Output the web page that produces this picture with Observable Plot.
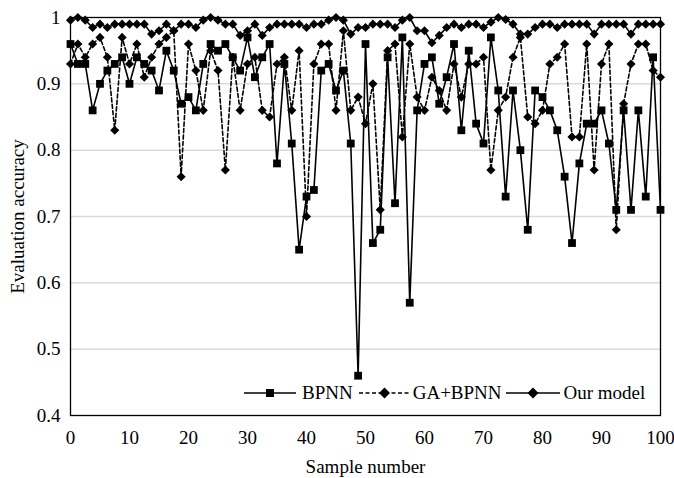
<!DOCTYPE html>
<html><head><meta charset="utf-8">
<script src="https://cdn.jsdelivr.net/npm/d3@7"></script>
<script src="https://cdn.jsdelivr.net/npm/@observablehq/plot@0.6"></script>
<style>
body{margin:0;background:#fff;}
#wrap{position:relative;width:674px;height:478px;font-family:"Liberation Serif","Times New Roman",serif;}
#legend{position:absolute;left:244px;top:382px;height:22px;display:flex;align-items:center;font-size:19px;line-height:22px;color:#000;}
#legend svg{display:block;}
</style></head>
<body><div id="wrap"><div id="chart"></div><div id="legend"></div></div>
<script>
const sampleNumber = [0,1.25,2.5,3.75,5,6.25,7.5,8.75,10,11.25,12.5,13.75,15,16.25,17.5,18.75,20,21.25,22.5,23.75,25,26.25,27.5,28.75,30,31.25,32.5,33.75,35,36.25,37.5,38.75,40,41.25,42.5,43.75,45,46.25,47.5,48.75,50,51.25,52.5,53.75,55,56.25,57.5,58.75,60,61.25,62.5,63.75,65,66.25,67.5,68.75,70,71.25,72.5,73.75,75,76.25,77.5,78.75,80,81.25,82.5,83.75,85,86.25,87.5,88.75,90,91.25,92.5,93.75,95,96.25,97.5,98.75,100];

const bpnn = [0.96,0.93,0.93,0.86,0.90,0.92,0.93,0.94,0.90,0.94,
 0.93,0.92,0.89,0.95,0.92,0.87,0.88,0.86,0.93,0.96,
 0.95,0.96,0.94,0.92,0.97,0.91,0.94,0.96,0.78,0.93,
 0.81,0.65,0.73,0.74,0.92,0.93,0.89,0.92,0.81,0.46,
 0.96,0.66,0.68,0.94,0.72,0.97,0.57,0.86,0.93,0.94,
 0.87,0.91,0.96,0.83,0.95,0.84,0.81,0.97,0.89,0.73,
 0.89,0.80,0.68,0.89,0.88,0.86,0.83,0.76,0.66,0.78,
 0.84,0.84,0.86,0.81,0.71,0.86,0.71,0.86,0.73,0.94,
 0.71];

const gaBpnn = [0.93,0.96,0.94,0.96,0.97,0.94,0.83,0.97,0.93,0.96,
 0.91,0.94,0.96,0.97,0.98,0.76,0.96,0.92,0.86,0.95,
 0.92,0.77,0.94,0.86,0.93,0.94,0.86,0.85,0.93,0.94,
 0.86,0.95,0.70,0.93,0.96,0.96,0.86,0.98,0.86,0.88,
 0.84,0.90,0.71,0.95,0.96,0.82,0.96,0.88,0.86,0.91,
 0.89,0.86,0.93,0.88,0.93,0.93,0.94,0.77,0.86,0.88,
 0.94,0.97,0.85,0.84,0.86,0.93,0.94,0.96,0.82,0.82,
 0.96,0.77,0.93,0.96,0.68,0.87,0.93,0.96,0.96,0.92,
 0.91];

const ourModel = [0.996,1.0,0.996,0.985,0.99,0.985,0.99,0.99,0.99,0.99,
 0.99,0.975,0.98,0.99,0.98,0.99,0.99,0.985,0.996,1.0,
 0.996,0.99,0.99,0.973,0.98,0.99,0.973,0.985,0.99,0.99,
 0.99,0.99,0.985,0.99,0.99,0.996,1.0,0.996,0.975,0.985,
 0.985,0.99,0.99,0.99,0.985,0.996,1.0,0.98,0.98,0.962,
 0.973,0.985,0.99,0.985,0.99,0.99,0.985,0.993,1.0,0.997,
 0.99,0.975,0.975,0.985,0.99,0.99,0.985,0.99,0.99,0.99,
 0.99,0.975,0.99,0.99,0.99,0.99,0.975,0.99,0.99,0.99,
 0.99];

const xTicks = [0,10,20,30,40,50,60,70,80,90,100];
const yTicks = [0.4,0.5,0.6,0.7,0.8,0.9,1];
const gridTicks = [0.5,0.6,0.7,0.8,0.9];
const seriesNames = ["BPNN","GA+BPNN","Our model"];

const font = '"Liberation Serif","Times New Roman",serif';

const chart = Plot.plot({
  width: 674, height: 478,
  marginLeft: 70, marginRight: 14, marginTop: 17, marginBottom: 63,
  style: {fontFamily: font, fontSize: "19px", color: "#000", background: "#fff", overflow: "visible"},
  x: {domain: [0, 100]},
  y: {domain: [0.4, 1]},
  marks: [
    Plot.gridY(gridTicks, {stroke: "#d9d9d9", strokeOpacity: 1, strokeWidth: 1.5}),
    Plot.axisX(xTicks, {tickSize: 0, tickPadding: 15, label: "Sample number", labelAnchor: "center", labelArrow: "none", labelOffset: 57, fontSize: 19}),
    Plot.axisY(yTicks, {tickSize: 0, tickPadding: 10, tickFormat: d => d === 1 ? "1" : d.toFixed(1), label: "Evaluation accuracy", labelAnchor: "center", labelArrow: "none", labelOffset: 60, fontSize: 19}),
    Plot.line(bpnn, {x: sampleNumber, y: bpnn, stroke: "#000", strokeWidth: 1.6}),
    Plot.dot(bpnn, {x: sampleNumber, y: bpnn, symbol: "square", fill: "#000", r: 4.4}),
    Plot.line(gaBpnn, {x: sampleNumber, y: gaBpnn, stroke: "#000", strokeWidth: 1.6, strokeDasharray: "4,2.5"}),
    Plot.dot(gaBpnn, {x: sampleNumber, y: gaBpnn, symbol: "diamond2", fill: "#000", r: 4.1}),
    Plot.line(ourModel, {x: sampleNumber, y: ourModel, stroke: "#000", strokeWidth: 1.6}),
    Plot.dot(ourModel, {x: sampleNumber, y: ourModel, symbol: "diamond2", fill: "#000", r: 4.1}),
    Plot.frame({stroke: "#000", strokeWidth: 1.3})
  ]
});
document.getElementById("chart").appendChild(chart);

function sample(dash, marker, w) {
  const mid = w / 2;
  const m = marker === "square"
    ? `<rect x="${mid-4}" y="3" width="8" height="8" fill="#000"/>`
    : `<polygon points="${mid},1.5 ${mid+5.5},7 ${mid},12.5 ${mid-5.5},7" fill="#000"/>`;
  return `<svg width="${w}" height="14"><line x1="0" y1="7" x2="${w}" y2="7" stroke="#000" stroke-width="1.6" ${dash ? 'stroke-dasharray="4,2.5"' : ''}/>${m}</svg>`;
}
const legendSpec = [
  {name: seriesNames[0], dash: false, marker: "square", w: 52, gapBefore: 0, gapAfter: 6},
  {name: seriesNames[1], dash: true, marker: "diamond", w: 51, gapBefore: 6, gapAfter: 3},
  {name: seriesNames[2], dash: false, marker: "diamond", w: 54, gapBefore: 4, gapAfter: 4}
];
const legend = document.getElementById("legend");
legendSpec.forEach((s) => {
  const it = document.createElement("div");
  it.style.display = "flex"; it.style.alignItems = "center";
  it.style.marginLeft = s.gapBefore + "px";
  it.innerHTML = sample(s.dash, s.marker, s.w) + `<span style="margin-left:${s.gapAfter}px">${s.name}</span>`;
  legend.appendChild(it);
});
</script>
</body></html>
